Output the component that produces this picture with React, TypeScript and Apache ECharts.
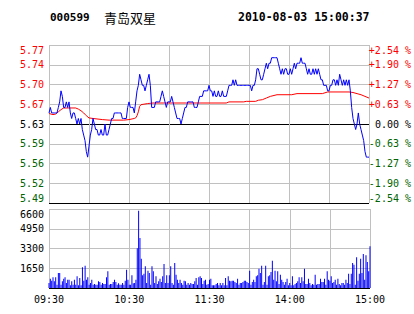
import React, { useEffect, useRef } from 'react';
import * as echarts from 'echarts';

const PREV_CLOSE = 5.63;
const PCT_MAX = 2.54;
const PCT_STEP = 0.635;

const priceTickLabels = ['5.49', '5.52', '5.56', '5.59', '5.63', '5.67', '5.70', '5.74', '5.77'];
const pctTickLabels = ['-2.54 %', '-1.90 %', '-1.27 %', '-0.63 %', '0.00 %', '+0.63 %', '+1.27 %', '+1.90 %', '+2.54 %'];
const volTickLabels = ['', '1650', '3300', '4950', '6600'];
const timeTickLabels = ['09:30', '', '10:30', '', '11:30', '', '14:00', '', '15:00'];

// one price per minute, 09:30 .. 11:30 / 13:00 .. 15:00 (241 points)
const prices = [
  5.65, 5.66, 5.65, 5.65, 5.65, 5.65, 5.65, 5.66, 5.67, 5.69,
  5.68, 5.66, 5.66, 5.67, 5.66, 5.67, 5.65, 5.64, 5.65, 5.65,
  5.64, 5.63, 5.64, 5.63, 5.64, 5.62, 5.61, 5.60, 5.58, 5.57,
  5.59, 5.61, 5.62, 5.64, 5.63, 5.62, 5.62, 5.61, 5.61, 5.62,
  5.61, 5.61, 5.63, 5.61, 5.61, 5.62, 5.63, 5.64, 5.64, 5.65,
  5.65, 5.65, 5.65, 5.65, 5.65, 5.64, 5.64, 5.64, 5.64, 5.66,
  5.67, 5.66, 5.66, 5.66, 5.65, 5.67, 5.69, 5.70, 5.72, 5.71,
  5.70, 5.70, 5.69, 5.70, 5.71, 5.72, 5.70, 5.66, 5.66, 5.66,
  5.67, 5.67, 5.67, 5.67, 5.68, 5.69, 5.68, 5.67, 5.66, 5.67,
  5.67, 5.67, 5.68, 5.67, 5.66, 5.65, 5.64, 5.64, 5.64, 5.63,
  5.64, 5.65, 5.66, 5.66, 5.67, 5.67, 5.67, 5.67, 5.67, 5.66,
  5.66, 5.66, 5.67, 5.68, 5.68, 5.68, 5.69, 5.69, 5.69, 5.69,
  5.70, 5.69, 5.69, 5.68, 5.69, 5.68, 5.68, 5.69, 5.68, 5.68,
  5.69, 5.68, 5.68, 5.68, 5.69, 5.70, 5.70, 5.70, 5.71, 5.70,
  5.71, 5.70, 5.70, 5.70, 5.70, 5.70, 5.70, 5.70, 5.70, 5.70,
  5.70, 5.70, 5.69, 5.70, 5.70, 5.71, 5.73, 5.73, 5.72, 5.71,
  5.71, 5.72, 5.73, 5.74, 5.73, 5.74, 5.74, 5.75, 5.75, 5.75,
  5.75, 5.75, 5.74, 5.73, 5.72, 5.73, 5.72, 5.73, 5.73, 5.72,
  5.72, 5.73, 5.72, 5.73, 5.74, 5.73, 5.74, 5.74, 5.74, 5.75,
  5.74, 5.74, 5.74, 5.73, 5.72, 5.73, 5.72, 5.72, 5.73, 5.72,
  5.73, 5.72, 5.73, 5.72, 5.71, 5.71, 5.70, 5.70, 5.70, 5.69,
  5.69, 5.70, 5.70, 5.71, 5.71, 5.70, 5.71, 5.70, 5.72, 5.71,
  5.70, 5.71, 5.70, 5.71, 5.70, 5.71, 5.69, 5.66, 5.64, 5.63,
  5.62, 5.63, 5.65, 5.63, 5.62, 5.61, 5.60, 5.58, 5.57, 5.57,
  5.57,
];

// average price line, read at these minutes
const avgMinutes = [0, 3, 5, 7, 9, 11, 20, 22, 24, 26, 28, 30, 33, 40, 45, 56, 60, 64, 65, 66, 67, 68, 69, 74, 78, 133, 135, 146, 148, 155, 157, 160, 163, 166, 171, 182, 186, 205, 209, 225, 228, 231, 234, 237, 240];
const avgPrices = [5.649, 5.647, 5.648, 5.652, 5.656, 5.659, 5.659, 5.657, 5.654, 5.650, 5.645, 5.641, 5.640, 5.638, 5.637, 5.637, 5.638, 5.640, 5.641, 5.645, 5.652, 5.662, 5.665, 5.667, 5.668, 5.668, 5.670, 5.670, 5.671, 5.671, 5.673, 5.674, 5.677, 5.680, 5.683, 5.683, 5.685, 5.685, 5.688, 5.688, 5.687, 5.685, 5.683, 5.680, 5.677];

// volume per minute (241 bars)
const volumes = [
  418, 780, 613, 891, 557, 891, 279, 1253, 1253, 279,
  557, 780, 891, 418, 696, 696, 223, 557, 279, 696,
  279, 975, 223, 836, 223, 1727, 613, 1866, 696, 891,
  279, 418, 696, 279, 334, 279, 279, 557, 501, 279,
  418, 334, 334, 891, 1393, 279, 334, 334, 501, 696,
  501, 279, 390, 279, 279, 418, 279, 613, 1532, 696,
  279, 279, 1058, 390, 418, 696, 3314, 6461, 4178, 2451,
  1058, 1198, 1810, 418, 1448, 1253, 279, 1810, 1393, 418,
  975, 334, 557, 780, 501, 975, 2005, 418, 1058, 418,
  1058, 1810, 418, 279, 2089, 1114, 696, 418, 696, 418,
  279, 613, 557, 279, 418, 279, 418, 334, 334, 557,
  836, 279, 891, 975, 836, 334, 613, 696, 279, 334,
  696, 780, 223, 223, 223, 334, 418, 223, 418, 223,
  418, 223, 836, 223, 975, 613, 557, 613, 613, 501,
  418, 780, 279, 418, 418, 501, 613, 613, 501, 418,
  1448, 279, 501, 696, 501, 975, 1058, 1615, 1253, 1866,
  279, 501, 1866, 279, 975, 1058, 1337, 2284, 696, 1448,
  557, 1393, 334, 1114, 696, 501, 279, 501, 780, 223,
  418, 223, 975, 223, 334, 418, 557, 891, 418, 891,
  557, 1615, 334, 334, 780, 418, 223, 334, 279, 1114,
  279, 334, 334, 780, 501, 501, 780, 279, 1393, 696,
  613, 975, 418, 501, 696, 279, 780, 334, 223, 418,
  418, 279, 696, 418, 1198, 334, 1198, 2089, 1950, 279,
  2562, 613, 1198, 2451, 1253, 2841, 696, 2729, 2172, 1393,
  3481,
];

const RED = '#ff0000';
const GREEN = '#006400';
const GRID = '#c0c0c0';
const MONO = '"DejaVu Sans Mono", monospace';

const toPct = (p: number) => (p / PREV_CLOSE - 1) * 100;
const tickIndex = (v: string | number) => Math.round((Number(v) + PCT_MAX) / PCT_STEP);
const tickColor = (v: any) => {
  const i = tickIndex(v);
  return i > 4 ? RED : i === 4 ? '#000' : GREEN;
};

export default function App() {
  const ref = useRef<HTMLDivElement>(null);
  useEffect(() => {
    if (!ref.current) return;
    const chart = echarts.init(ref.current, undefined, { renderer: 'svg' });
    const priceSplitColors = [ '#000', GRID, GRID, GRID, '#000', GRID, GRID, GRID, GRID ];
    chart.setOption({
      animation: false,
      backgroundColor: '#fff',
      grid: [
        { left: 49, top: 45, width: 321, height: 158 },
        { left: 49, top: 209, width: 321, height: 79 },
      ],
      graphic: [
        { type: 'text', x: 50, y: 17, style: { text: '000599', font: 'bold 11px ' + MONO, fill: '#000', verticalAlign: 'middle', textVerticalAlign: 'middle' } },
        { type: 'text', x: 104, y: 17, style: { text: '青岛双星', font: '13px "Noto Sans CJK SC"', fill: '#000', verticalAlign: 'middle', textVerticalAlign: 'middle' } },
        { type: 'text', x: 238, y: 17, style: { text: '2010-08-03 15:00:37', font: 'bold 11.5px ' + MONO, fill: '#000', verticalAlign: 'middle', textVerticalAlign: 'middle' } },
      ],
      xAxis: [
        {
          gridIndex: 0, type: 'value', min: 0, max: 240, interval: 30,
          axisLine: { show: false }, axisTick: { show: false }, axisLabel: { show: false },
          splitLine: { show: true, lineStyle: { color: GRID, width: 1 } },
        },
        {
          gridIndex: 1, type: 'value', min: 0, max: 240, interval: 30,
          axisLine: { show: false }, axisTick: { show: false },
          axisLabel: {
            show: true, margin: 6, color: '#000', fontFamily: MONO, fontSize: 10,
            formatter: (v: number) => timeTickLabels[Math.round(v / 30)] || '',
          },
          splitLine: { show: true, lineStyle: { color: GRID, width: 1 } },
        },
      ],
      yAxis: [
        {
          gridIndex: 0, type: 'value', position: 'left', min: -PCT_MAX, max: PCT_MAX, interval: PCT_STEP,
          axisLine: { show: false }, axisTick: { show: false },
          splitLine: { show: true, lineStyle: { color: priceSplitColors, width: 1 } },
          axisLabel: {
            margin: 5, fontFamily: MONO, fontSize: 10, color: tickColor,
            verticalAlignMinLabel: 'bottom', verticalAlignMaxLabel: 'top',
            formatter: (v: number) => priceTickLabels[tickIndex(v)] || '',
          },
        },
        {
          gridIndex: 0, type: 'value', position: 'right', min: -PCT_MAX, max: PCT_MAX, interval: PCT_STEP,
          axisLine: { show: false }, axisTick: { show: false }, splitLine: { show: false },
          axisLabel: {
            margin: 42, align: 'right', fontFamily: MONO, fontSize: 10, color: tickColor,
            verticalAlignMinLabel: 'bottom', verticalAlignMaxLabel: 'top',
            formatter: (v: number) => pctTickLabels[tickIndex(v)] || '',
          },
        },
        {
          gridIndex: 1, type: 'value', position: 'left', min: 0, max: 6600, interval: 1650,
          axisLine: { show: false }, axisTick: { show: false },
          splitLine: { show: true, lineStyle: { color: ['#000', GRID, GRID, GRID, GRID], width: 1 } },
          axisLabel: {
            margin: 5, fontFamily: MONO, fontSize: 10, color: '#000',
            verticalAlignMaxLabel: 'top',
            formatter: (v: number) => volTickLabels[Math.round(v / 1650)] || '',
          },
        },
      ],
      series: [
        {
          type: 'line', xAxisIndex: 0, yAxisIndex: 0, z: 2,
          data: avgMinutes.map((m, i) => [m, toPct(avgPrices[i])]),
          showSymbol: false, symbol: 'none',
          lineStyle: { color: RED, width: 1 },
        },
        {
          type: 'line', xAxisIndex: 0, yAxisIndex: 0, z: 3,
          data: prices.map((p, i) => [i, toPct(p)]),
          showSymbol: false, symbol: 'none',
          lineStyle: { color: '#0000ff', width: 1 },
        },
        {
          type: 'bar', xAxisIndex: 1, yAxisIndex: 2,
          data: volumes.map((v, i) => [i, v]),
          barWidth: 1,
          itemStyle: { color: '#0000ff' },
        },
      ],
    });
    return () => chart.dispose();
  }, []);
  return <div ref={ref} style={{ position: 'fixed', left: 0, top: 0, width: 414, height: 314, background: '#fff' }} />;
}
